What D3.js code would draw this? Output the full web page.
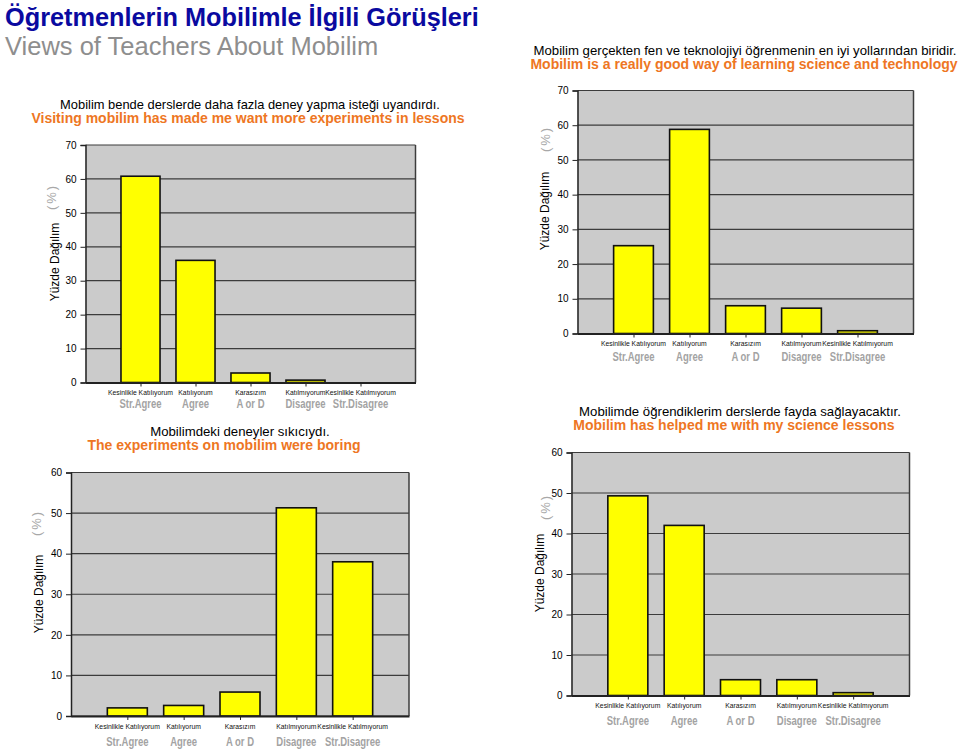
<!DOCTYPE html>
<html lang="tr">
  <head>
    <meta charset="utf-8">
    <title>Mobilim_Views</title>
    <script src="https://d3js.org/d3.v7.js"></script>
    <style>
      body { margin: 0; background: #fff; }
      text { font-family: "Liberation Sans", Arial, sans-serif; }
    </style>
  </head>

  <body>
  <script>

// chart data

  var categoriesTr = ["Kesinlikle Katılıyorum", "Katılıyorum", "Karasızım",
                      "Katılmıyorum", "Kesinlikle Katılmıyorum"];
  var categoriesEn = ["Str.Agree", "Agree", "A or D", "Disagree", "Str.Disagree"];

  var experimentsValues = [60.8, 36.0, 2.8, 0.7, 0];
  var scienceTechValues = [25.3, 58.8, 8.0, 7.3, 0.8];
  var boringValues = [2.0, 2.6, 5.9, 51.3, 38.0];
  var helpedValues = [49.3, 42.0, 3.9, 3.9, 0.7];

  var ticks70 = [0, 10, 20, 30, 40, 50, 60, 70];
  var ticks60 = [0, 10, 20, 30, 40, 50, 60];

  var w = 959;
  var h = 749;

  var svg = d3.select("body")
    .append("svg")
      .attr("width", w)
      .attr("height", h);

// page header

  svg.append("text")
      .attr("x", 5)
      .attr("y", 26)
      .attr("font-size", 25.3)
      .attr("font-weight", "bold")
      .attr("fill", "#0a0aa0")
      .text("Öğretmenlerin Mobilimle İlgili Görüşleri");

  svg.append("text")
      .attr("x", 5)
      .attr("y", 55)
      .attr("font-size", 25.5)
      .attr("fill", "#8e8e8e")
      .text("Views of Teachers About Mobilim");

// one chart

  function drawChart(c) {
    var g = svg.append("g");
    var innerWidth = c.right - c.left;

    var xScale = d3.scalePoint()
        .domain(categoriesEn)
        .range([c.left, c.right])
        .padding(1);

    var yScale = d3.scaleLinear()
        .domain([0, d3.max(c.ticks)])
        .range([c.bottom, c.top]);

    var barW = xScale.step() * 0.71;

    // titles
    g.append("text")
        .attr("x", c.titleX)
        .attr("y", c.titleY)
        .attr("text-anchor", "middle")
        .attr("font-size", c.titleSize)
        .attr("fill", "#000")
        .text(c.titleTr);

    g.append("text")
        .attr("x", c.subX)
        .attr("y", c.titleY + 14)
        .attr("text-anchor", "middle")
        .attr("font-size", 14)
        .attr("font-weight", "bold")
        .attr("fill", "#ee7623")
        .text(c.titleEn);

    // plot background
    g.append("rect")
        .attr("x", c.left)
        .attr("y", c.top)
        .attr("width", innerWidth)
        .attr("height", c.bottom - c.top)
        .attr("fill", "#cbcbcb");

    // gridlines
    g.selectAll("line.grid")
      .data(c.ticks)
      .enter().append("line")
        .attr("class", "grid")
        .attr("x1", c.left)
        .attr("x2", c.right)
        .attr("y1", d => yScale(d))
        .attr("y2", d => yScale(d))
        .attr("stroke", "#3c3c3c")
        .attr("stroke-width", 1.2);

    g.append("line")
        .attr("x1", c.right)
        .attr("x2", c.right)
        .attr("y1", c.top)
        .attr("y2", c.bottom)
        .attr("stroke", "#3c3c3c")
        .attr("stroke-width", 1.5);

    // bars
    g.selectAll("rect.bar")
      .data(c.values)
      .enter().append("rect")
        .attr("class", "bar")
        .attr("x", (d, i) => xScale(categoriesEn[i]) - barW / 2)
        .attr("y", d => yScale(d))
        .attr("width", barW)
        .attr("height", d => c.bottom - yScale(d))
        .attr("fill", "#ffff00")
        .attr("stroke", "#111")
        .attr("stroke-width", 1.6);

    // axes
    var yAxis = g.append("g")
        .attr("transform", `translate(${c.left}, 0)`)
        .call(d3.axisLeft(yScale).tickValues(c.ticks).tickSize(5).tickPadding(4));
    yAxis.select(".domain").attr("stroke", "#222").attr("stroke-width", 1.5);
    yAxis.selectAll(".tick line").attr("stroke", "#222");
    yAxis.selectAll("text")
        .attr("font-size", 10)
        .attr("font-family", "Liberation Sans, Arial, sans-serif")
        .attr("fill", "#000");

    var xAxis = g.append("g")
        .attr("transform", `translate(0, ${c.bottom})`)
        .call(d3.axisBottom(xScale).tickSize(4).tickSizeOuter(0).tickFormat(""));
    xAxis.select(".domain").attr("stroke", "#222").attr("stroke-width", 2);
    xAxis.selectAll(".tick line").attr("stroke", "#222");

    // category labels
    g.selectAll("text.tr")
      .data(categoriesTr)
      .enter().append("text")
        .attr("class", "tr")
        .attr("x", (d, i) => xScale(categoriesEn[i]))
        .attr("y", c.bottom + 12.5)
        .attr("text-anchor", "middle")
        .attr("font-size", 6.8)
        .attr("fill", "#111")
        .text(d => d);

    g.selectAll("text.en")
      .data(categoriesEn)
      .enter().append("text")
        .attr("class", "en")
        .attr("transform", d => `translate(${xScale(d)}, ${c.bottom + c.enOffset}) scale(0.76, 1)`)
        .attr("text-anchor", "middle")
        .attr("font-size", 12.5)
        .attr("font-weight", "bold")
        .attr("fill", "#a3a3a3")
        .text(d => d);

    // y axis titles
    g.append("text")
        .attr("transform", `translate(${c.yLabelX}, ${c.yLabelY}) rotate(-90)`)
        .attr("text-anchor", "middle")
        .attr("font-size", 12)
        .attr("fill", "#000")
        .text("Yüzde Dağılım");

    g.append("text")
        .attr("transform", `translate(${c.pctX}, ${c.pctY}) rotate(-90)`)
        .attr("text-anchor", "middle")
        .attr("font-size", 13)
        .attr("letter-spacing", 2)
        .attr("fill", "#a8a8a8")
        .text("(%)");
  }

  drawChart({
    values: experimentsValues, ticks: ticks70,
    left: 85.5, right: 415.5, top: 145, bottom: 382.5, enOffset: 25.5,
    titleTr: "Mobilim bende derslerde daha fazla deney yapma isteği uyandırdı.",
    titleEn: "Visiting mobilim has made me want more experiments in lessons",
    titleSize: 12.9, titleX: 250, subX: 248, titleY: 109,
    yLabelX: 59, yLabelY: 262, pctX: 56, pctY: 197
  });

  drawChart({
    values: scienceTechValues, ticks: ticks70,
    left: 577.5, right: 913.5, top: 90.5, bottom: 333.5, enOffset: 27,
    titleTr: "Mobilim gerçekten fen ve teknolojiyi öğrenmenin en iyi yollarından biridir.",
    titleEn: "Mobilim is a really good way of learning science and technology",
    titleSize: 13.2, titleX: 745, subX: 744, titleY: 55,
    yLabelX: 549, yLabelY: 211, pctX: 550, pctY: 139
  });

  drawChart({
    values: boringValues, ticks: ticks60,
    left: 71, right: 409, top: 472.5, bottom: 716, enOffset: 30,
    titleTr: "Mobilimdeki deneyler sıkıcıydı.",
    titleEn: "The experiments on mobilim were boring",
    titleSize: 13.2, titleX: 240, subX: 224, titleY: 436,
    yLabelX: 43, yLabelY: 594, pctX: 41, pctY: 523
  });

  drawChart({
    values: helpedValues, ticks: ticks60,
    left: 571.5, right: 909.5, top: 452.5, bottom: 695.5, enOffset: 29.5,
    titleTr: "Mobilimde öğrendiklerim derslerde fayda sağlayacaktır.",
    titleEn: "Mobilim has helped me with my science lessons",
    titleSize: 13.2, titleX: 740, subX: 734, titleY: 416,
    yLabelX: 544, yLabelY: 573, pctX: 550, pctY: 507
  });

  </script>
  </body>

</html>
